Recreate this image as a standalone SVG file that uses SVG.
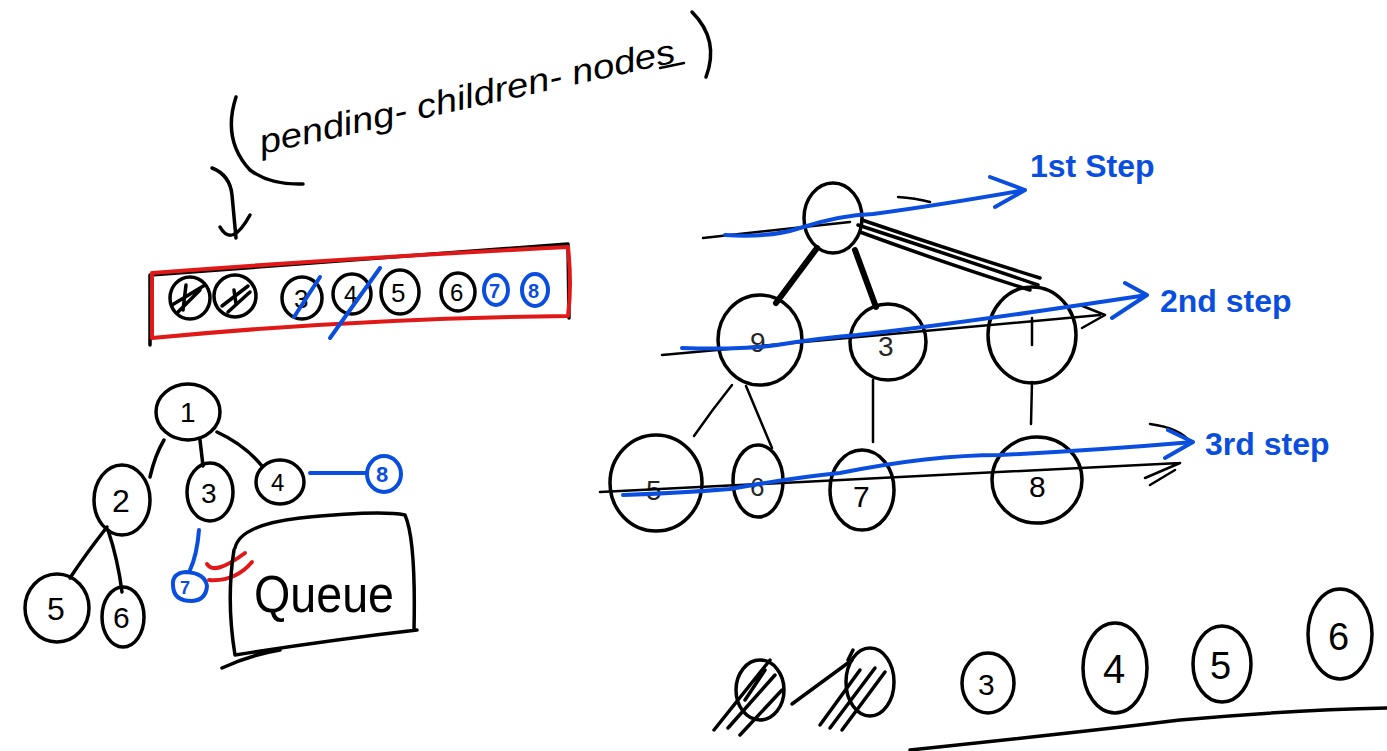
<svg xmlns="http://www.w3.org/2000/svg" width="1387" height="751" viewBox="0 0 1387 751">
<defs>
<style>
.k{fill:none;stroke:#000;stroke-width:3.5;stroke-linecap:round;stroke-linejoin:round}
.kk{fill:none;stroke:#000;stroke-width:6;stroke-linecap:round}
.kt{fill:none;stroke:#000;stroke-width:2.5;stroke-linecap:round;stroke-linejoin:round}
.b{fill:none;stroke:#0a4ee0;stroke-width:4;stroke-linecap:round;stroke-linejoin:round}
.r{fill:none;stroke:#e01818;stroke-width:4;stroke-linecap:round;stroke-linejoin:round}
.t{font-family:"Liberation Sans",Arial,sans-serif;fill:#000}
.bt{font-family:"Liberation Sans",Arial,sans-serif;fill:#0a4ee0;font-weight:bold}
</style>
</defs>
<rect width="1387" height="751" fill="#fff"/>

<g id="title">
<path class="k" d="M236,97 Q222,140 250,170 Q270,185 303,184"/>
<text class="t" x="262" y="154" font-size="34" font-style="italic" textLength="425" lengthAdjust="spacingAndGlyphs" transform="rotate(-12.5 262 154)">pending- children- nodes</text>
<path class="kt" d="M660,68 L684,63"/>
<path class="k" d="M692,12 Q720,40 706,77"/>
<path class="k" d="M212,168 Q230,175 232,195 L236,238 M220,227 Q232,248 250,215"/>
</g>

<g id="pending-list">
<path class="k" d="M150,275 L150,345 M150,275 L568,244 L569,318"/>
<path class="r" d="M152,273 Q350,258 568,247 Q572,285 568,316 Q360,318 152,338 Z"/>
<ellipse class="k" cx="190" cy="298" rx="20" ry="21"/>
<path class="k" d="M172,305 L205,285 M178,312 L200,290 M186,285 L183,310"/>
<ellipse class="k" cx="235" cy="296" rx="21" ry="21"/>
<path class="k" d="M222,306 L248,286 M228,312 L250,292 M234,290 L236,304"/>
<ellipse class="k" cx="302" cy="298" rx="20" ry="21"/>
<text class="t" x="294" y="308" font-size="26">3</text>
<ellipse class="k" cx="352" cy="294" rx="19" ry="20"/>
<text class="t" x="344" y="303" font-size="24">4</text>
<path class="b" d="M294,317 L320,277"/>
<path class="b" d="M330,338 L380,268"/>
<ellipse class="k" cx="400" cy="292" rx="19" ry="22"/>
<text class="t" x="391" y="302" font-size="26">5</text>
<ellipse class="k" cx="458" cy="292" rx="17" ry="19"/>
<text class="t" x="450" y="301" font-size="24">6</text>
<ellipse class="b" cx="496" cy="290" rx="12" ry="15"/>
<text class="bt" x="489" y="298" font-size="20">7</text>
<ellipse class="b" cx="535" cy="290" rx="13" ry="16"/>
<text class="bt" x="528" y="298" font-size="20">8</text>
</g>

<g id="left-tree">
<g id="lt-edges">
<path class="k" d="M164,440 Q155,455 150,477"/>
<path class="k" d="M200,440 L203,466"/>
<path class="k" d="M217,432 Q245,445 262,466"/>
<path class="k" d="M107,527 Q85,555 70,578"/>
<path class="k" d="M108,530 Q118,560 122,592"/>
<path class="b" d="M310,473 L367,473"/>
<path class="b" d="M199,530 Q197,555 190,570"/>
</g>
<g id="lt-n1"><ellipse class="k" cx="188" cy="412" rx="32" ry="28"/><text class="t" x="180" y="422" font-size="28">1</text></g>
<g id="lt-n2"><ellipse class="k" cx="122" cy="500" rx="28" ry="35"/><text class="t" x="112" y="512" font-size="32">2</text></g>
<g id="lt-n3"><ellipse class="k" cx="210" cy="492" rx="23" ry="29"/><text class="t" x="201" y="503" font-size="28">3</text></g>
<g id="lt-n4"><ellipse class="k" cx="280" cy="482" rx="24" ry="22"/><text class="t" x="271" y="491" font-size="24">4</text></g>
<g id="lt-n5"><ellipse class="k" cx="57" cy="608" rx="32" ry="34"/><text class="t" x="47" y="620" font-size="32">5</text></g>
<g id="lt-n6"><ellipse class="k" cx="123" cy="617" rx="21" ry="30"/><text class="t" x="113" y="628" font-size="30">6</text></g>
<g id="lt-n8"><ellipse class="b" cx="384" cy="474" rx="17" ry="18"/><text class="bt" x="376" y="482" font-size="22">8</text></g>
<g id="lt-n7"><path class="b" d="M173,585 Q172,573 186,572 Q205,573 207,586 Q206,600 192,601 Q173,601 173,585 Z"/><text class="bt" x="180" y="594" font-size="18">7</text></g>
<path class="r" d="M207,564 Q214,576 245,553"/>
<path class="r" d="M209,580 Q235,582 252,562"/>
</g>

<g id="queue">
<path class="k" d="M235,548 Q240,525 300,518 Q380,510 405,515 Q416,540 414,630 M234,550 Q226,600 235,655 Q330,640 417,630 M222,668 Q250,655 280,650"/>
<text class="t" x="254" y="612" font-size="52" textLength="140" lengthAdjust="spacingAndGlyphs">Queue</text>
</g>

<g id="right-tree">
<g id="rt-edges">
<path class="kk" d="M817,248 L776,303"/>
<path class="kk" d="M855,250 L876,307"/>
<path class="k" d="M858,225 Q950,255 1038,285 M860,232 Q950,265 1030,290 M862,220 Q950,250 1040,278"/>
<path class="kt" d="M732,385 Q712,410 694,436"/>
<path class="kt" d="M746,386 L772,448"/>
<path class="kt" d="M873,380 L873,442"/>
<path class="kt" d="M1032,382 L1031,424"/>
<path class="kt" d="M703,238 L850,222 M898,197 Q915,198 930,202"/>
<path class="kt" d="M662,355 L1100,315 M1080,305 L1105,315 L1082,328"/>
<path class="kt" d="M600,492 L1180,463 M1145,478 L1180,463 M1150,485 L1175,470 M1150,424 Q1180,428 1190,442"/>
</g>
<g id="rt-n1"><ellipse class="k" cx="833" cy="218" rx="29" ry="35"/></g>
<g id="rt-n2"><ellipse class="k" cx="760" cy="340" rx="42" ry="45"/><text class="t" x="750" y="352" font-size="28" opacity="0.85">9</text></g>
<g id="rt-n3"><ellipse class="k" cx="888" cy="342" rx="38" ry="38"/><text class="t" x="878" y="356" font-size="28" opacity="0.85">3</text></g>
<g id="rt-n4"><ellipse class="k" cx="1032" cy="335" rx="44" ry="48"/><path class="kt" d="M1032,318 L1032,345"/></g>
<g id="rt-n5"><ellipse class="k" cx="656" cy="483" rx="46" ry="48"/><text class="t" x="646" y="500" font-size="28" opacity="0.85">5</text></g>
<g id="rt-n6"><ellipse class="k" cx="758" cy="481" rx="25" ry="36"/><text class="t" x="750" y="496" font-size="26" opacity="0.85">6</text></g>
<g id="rt-n7"><ellipse class="k" cx="862" cy="490" rx="32" ry="40"/><text class="t" x="853" y="507" font-size="30">7</text></g>
<g id="rt-n8"><ellipse class="k" cx="1037" cy="480" rx="45" ry="43"/><text class="t" x="1029" y="497" font-size="30">8</text></g>
</g>

<g id="steps">
<path class="b" d="M725,235 Q770,238 800,228 Q840,215 873,214 Q940,205 1025,190 M990,177 L1025,190 L995,207"/>
<text class="bt" x="1030" y="177" font-size="32">1st Step</text>
<path class="b" d="M682,348 Q740,350 777,345 Q820,338 857,335 Q950,325 1147,295 M1125,283 L1147,295 L1112,318"/>
<text class="bt" x="1160" y="312" font-size="32">2nd step</text>
<path class="b" d="M623,495 Q680,493 730,489 Q790,478 840,473 Q930,455 1000,455 Q1100,450 1193,442 M1168,430 L1193,442 L1165,458"/>
<text class="bt" x="1205" y="455" font-size="32">3rd step</text>
</g>

<g id="bottom-row">
<ellipse class="k" cx="760" cy="690" rx="24" ry="30"/>
<path class="k" d="M714,730 L770,660 M728,728 L775,675 M740,735 L782,690 M745,700 L765,670"/>
<ellipse class="k" cx="870" cy="682" rx="24" ry="34"/>
<path class="k" d="M792,704 L852,660 M820,725 L860,670 M830,728 L875,668 M842,730 L885,672 M848,660 L853,650"/>
<ellipse class="k" cx="988" cy="683" rx="26" ry="30"/>
<text class="t" x="978" y="695" font-size="30">3</text>
<ellipse class="k" cx="1115" cy="668" rx="32" ry="45"/>
<text class="t" x="1103" y="683" font-size="40">4</text>
<ellipse class="k" cx="1222" cy="664" rx="29" ry="38"/>
<text class="t" x="1210" y="679" font-size="38">5</text>
<ellipse class="k" cx="1340" cy="634" rx="32" ry="45"/>
<text class="t" x="1328" y="650" font-size="38">6</text>
<path class="k" d="M910,750 Q1100,730 1180,720 Q1290,710 1387,708"/>
</g>
</svg>
